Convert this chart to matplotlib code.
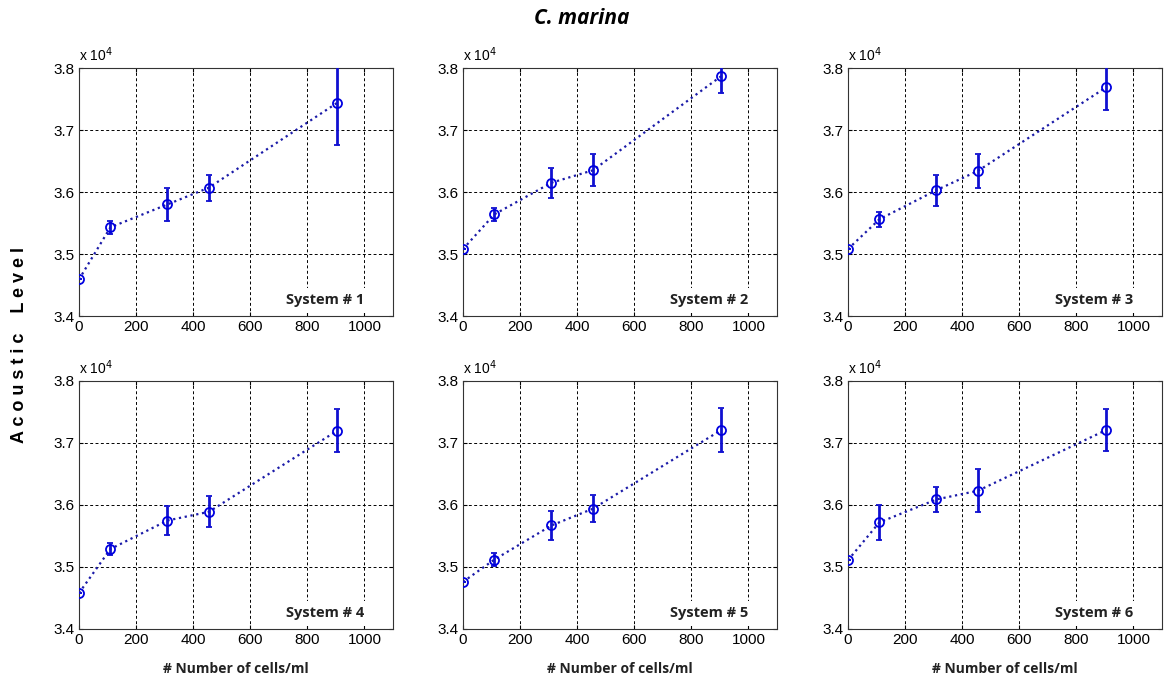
import matplotlib
matplotlib.use("Agg")
import matplotlib.pyplot as plt
import numpy as np

# x positions (cells/ml)
cells = [0, 110, 310, 455, 905]

# Acoustic level (x 10^4) means and error half-widths for each system
sys1_mean = [3.459, 3.543, 3.580, 3.607, 3.744]
sys1_err  = [0.000, 0.010, 0.027, 0.021, 0.068]
sys2_mean = [3.508, 3.564, 3.615, 3.635, 3.787]
sys2_err  = [0.000, 0.010, 0.024, 0.026, 0.027]
sys3_mean = [3.508, 3.556, 3.603, 3.634, 3.769]
sys3_err  = [0.000, 0.012, 0.025, 0.028, 0.036]
sys4_mean = [3.458, 3.529, 3.575, 3.589, 3.720]
sys4_err  = [0.000, 0.010, 0.024, 0.025, 0.035]
sys5_mean = [3.476, 3.512, 3.567, 3.594, 3.721]
sys5_err  = [0.000, 0.011, 0.024, 0.022, 0.036]
sys6_mean = [3.511, 3.572, 3.609, 3.623, 3.721]
sys6_err  = [0.000, 0.028, 0.020, 0.035, 0.034]

system_labels = ["System # 1", "System # 2", "System # 3",
                 "System # 4", "System # 5", "System # 6"]
x_ticks = [0, 200, 400, 600, 800, 1000]
y_ticks = [3.4, 3.5, 3.6, 3.7, 3.8]

means = [sys1_mean, sys2_mean, sys3_mean, sys4_mean, sys5_mean, sys6_mean]
errs = [sys1_err, sys2_err, sys3_err, sys4_err, sys5_err, sys6_err]

W, H = 1164, 690
fig = plt.figure(figsize=(W / 100, H / 100), dpi=100)

lefts = [79, 463, 848]
tops = [68, 381]
aw, ah = 314, 248

tick_font = "Liberation Sans"
label_font = "Open Sans"
for i in range(6):
    r, c = divmod(i, 3)
    left = lefts[c] / W
    bottom = 1 - (tops[r] + ah) / H
    ax = fig.add_axes([left, bottom, aw / W, ah / H])
    ax.plot(cells, means[i], linestyle=":", color="#1a1aa8", linewidth=1.6, zorder=3)
    ax.errorbar(cells, means[i], yerr=errs[i], fmt="o", mfc="none", mec="#0000e0",
                ms=6.5, mew=1.3, ecolor="#1010d0", elinewidth=2.0, capsize=2.5,
                capthick=1.5, zorder=4, clip_on=True)
    ax.set_xlim(0, 1100)
    ax.set_ylim(3.4, 3.8)
    ax.set_xticks(x_ticks)
    ax.set_yticks(y_ticks)
    ax.set_xticklabels([str(t) for t in x_ticks], fontsize=11, family=tick_font)
    ax.set_yticklabels([f"{t:.1f}" for t in y_ticks], fontsize=11, family=tick_font)
    ax.tick_params(direction="in", length=3, width=0.8, top=True, right=True, pad=3)
    ax.grid(True, linestyle=(0, (3, 2.5)), color="black", linewidth=0.7)
    for s in ax.spines.values():
        s.set_linewidth(0.8)
        s.set_color("#333333")
    ax.text(0.0, 1.015, r"x 10$^{4}$", transform=ax.transAxes, fontsize=10,
            family=tick_font, ha="left", va="bottom")
    ax.text(0.91, 0.035, system_labels[i], transform=ax.transAxes, fontsize=10.5,
            fontweight="bold", family=label_font, ha="right", va="bottom",
            color="#222222",
            bbox=dict(facecolor="white", edgecolor="none", pad=4), zorder=5)
    if r == 1:
        ax.text(0.5, -0.16, "# Number of cells/ml", transform=ax.transAxes,
                fontsize=10, fontweight="bold", family=label_font,
                ha="center", va="center", color="#222222")

fig.text(582 / W, 1 - 19 / H, "C. marina", fontsize=15, fontweight="bold",
         style="italic", family=label_font, ha="center", va="center")
fig.text(20 / W, 1 - 345 / H, "A c o u s t i c    L e v e l", fontsize=13,
         fontweight="bold", family="Liberation Sans", rotation=90,
         ha="center", va="center")

fig.savefig("out.png", dpi=100)
